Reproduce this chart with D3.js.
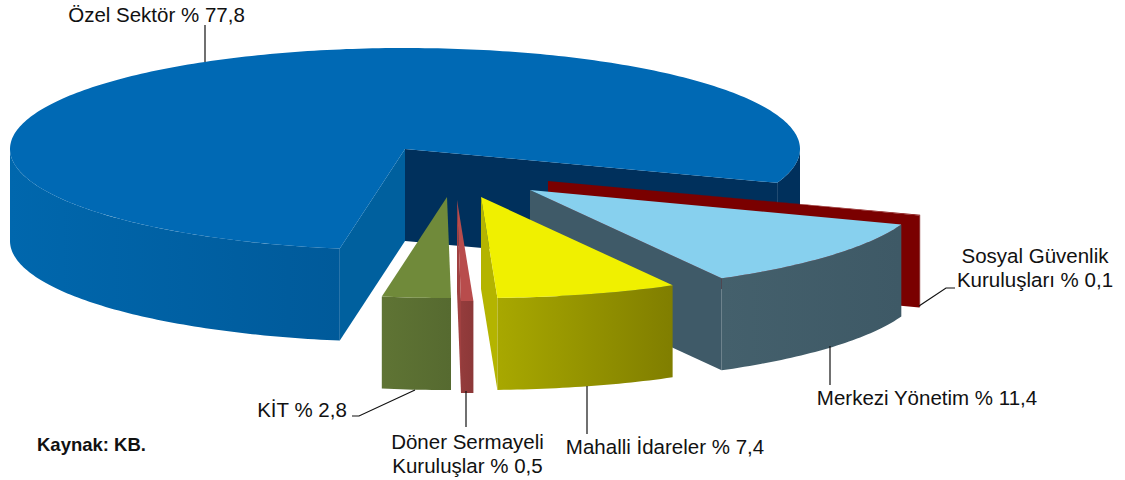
<!DOCTYPE html>
<html><head><meta charset="utf-8">
<script src="https://cdn.jsdelivr.net/npm/d3@7/dist/d3.min.js"></script>
<style>html,body{margin:0;padding:0;background:#fff}svg{display:block}text{font-family:"Liberation Sans",Arial,sans-serif;fill:#111}</style>
</head><body><svg id="c" width="1125" height="480"></svg>
<script>
const categories=["Özel Sektör","Sosyal Güvenlik Kuruluşları","Merkezi Yönetim","Mahalli İdareler","Döner Sermayeli Kuruluşlar","KİT"];
const values=[77.8,0.1,11.4,7.4,0.5,2.8];
const valueLabels=["77,8","0,1","11,4","7,4","0,5","2,8"];
const explodeX=[0,143,125,76,52,42];
const explodeY=[0,32,41,48,51,48];
const topColors=["#0069b4","#7f0000","#87d0ee","#f0f000","#b84c4c","#708a3a"];
const wallLeft=["#0067ad","#6e0000","#44606c","#a8a800","#943c3c","#5f7434"];
const wallRight=["#005a9a","#6e0000","#3e5966","#807e00","#8c3838","#566a30"];
const cutColors=["#00609e","#7a0000","#3f5a68","#b4b400","#a04040","#76903c"];
const cutBackColor="#00305c";

const cx=405,cy=149,rx=395,ry=101,depth=92;
const svg=d3.select("#c");
const defs=svg.append("defs");
const pie=d3.pie().sort(null).startAngle(-170.5*Math.PI/180).endAngle((360-170.5)*Math.PI/180);
const arcs=pie(values);
const line=d3.line();
const PI=Math.PI;
function P(i,a,z){return [cx+explodeX[i]+rx*Math.sin(a),cy+explodeY[i]-ry*Math.cos(a)+z];}
function arcPts(i,a0,a1,z){const n=Math.max(2,Math.ceil(Math.abs(a1-a0)*60));
  return d3.range(n+1).map(k=>P(i,a0+(a1-a0)*k/n,z));}
function grad(id,c0,c1,x0,x1){const g=defs.append("linearGradient").attr("id",id).attr("gradientUnits","userSpaceOnUse")
  .attr("x1",x0).attr("x2",x1).attr("y1",0).attr("y2",0);
  g.append("stop").attr("offset",0).attr("stop-color",c0);g.append("stop").attr("offset",1).attr("stop-color",c1);}
function drawSlice(i){
  const d=arcs[i],a0=d.startAngle,a1=d.endAngle;
  const g=svg.append("g").attr("class","slice");
  const apexT=[cx+explodeX[i],cy+explodeY[i]];
  const apexB=[apexT[0],apexT[1]+depth];
  if(Math.sin(a1)>0){
    g.append("path").attr("d",line([apexT,P(i,a1,0),P(i,a1,depth),apexB])+"Z").attr("fill",i===0?cutBackColor:cutColors[i]);
  }
  if(i===0){
    g.append("path").attr("d",line([apexT,P(i,a0,0),P(i,a0,depth),apexB])+"Z").attr("fill",cutColors[i]);
  }
  let segs=[];
  for(const k of [-1,0]){const s=Math.max(a0,PI/2+2*PI*k),e=Math.min(a1,3*PI/2+2*PI*k);if(e>s)segs.push([s,e]);}
  segs.forEach((sg,j)=>{
    const top=arcPts(i,sg[0],sg[1],0),bot=arcPts(i,sg[0],sg[1],depth).reverse();
    const xs=top.map(p=>p[0]);const id="w"+i+"_"+j;
    const dark=i===0&&sg[0]>0;
    grad(id,dark?cutBackColor:wallLeft[i],dark?cutBackColor:wallRight[i],d3.min(xs),d3.max(xs));
    g.append("path").attr("d",line(top.concat(bot))+"Z").attr("fill","url(#"+id+")");
  });
  g.append("path").attr("d",line([apexT].concat(arcPts(i,a0,a1,0)))+"Z").attr("fill",topColors[i]);
}
[0,1,2,3,5,4].forEach(drawSlice);

const leaders=[
 [[205,25],[205,62]],
 [[919,306],[946,288],[955,288]],
 [[830,346],[830,385]],
 [[587,386],[587,434]],
 [[466,391],[466,427]],
 [[415,390],[359,416],[352,416]]];
leaders.forEach(l=>svg.append("path").attr("d",line(l)).attr("fill","none").attr("stroke","#111").attr("stroke-width",1.2));

const labels=[
 {x:156.5,y:22,t:[categories[0]+" % "+valueLabels[0]]},
 {x:1035,y:263,t:["Sosyal Güvenlik","Kuruluşları % "+valueLabels[1]]},
 {x:927,y:405,t:[categories[2]+" % "+valueLabels[2]]},
 {x:665,y:454,t:[categories[3]+" % "+valueLabels[3]]},
 {x:467.5,y:449,t:["Döner Sermayeli","Kuruluşlar % "+valueLabels[4]]},
 {x:302,y:417,t:[categories[5]+" % "+valueLabels[5]]}];
labels.forEach(l=>{const t=svg.append("text").attr("text-anchor","middle").attr("font-size",20.5);
  l.t.forEach((s,i)=>t.append("tspan").attr("x",l.x).attr("y",l.y+i*24).text(s));});
svg.append("text").attr("x",37).attr("y",451).attr("font-size",18.5).attr("font-weight","bold").text("Kaynak: KB.");
</script></body></html>
